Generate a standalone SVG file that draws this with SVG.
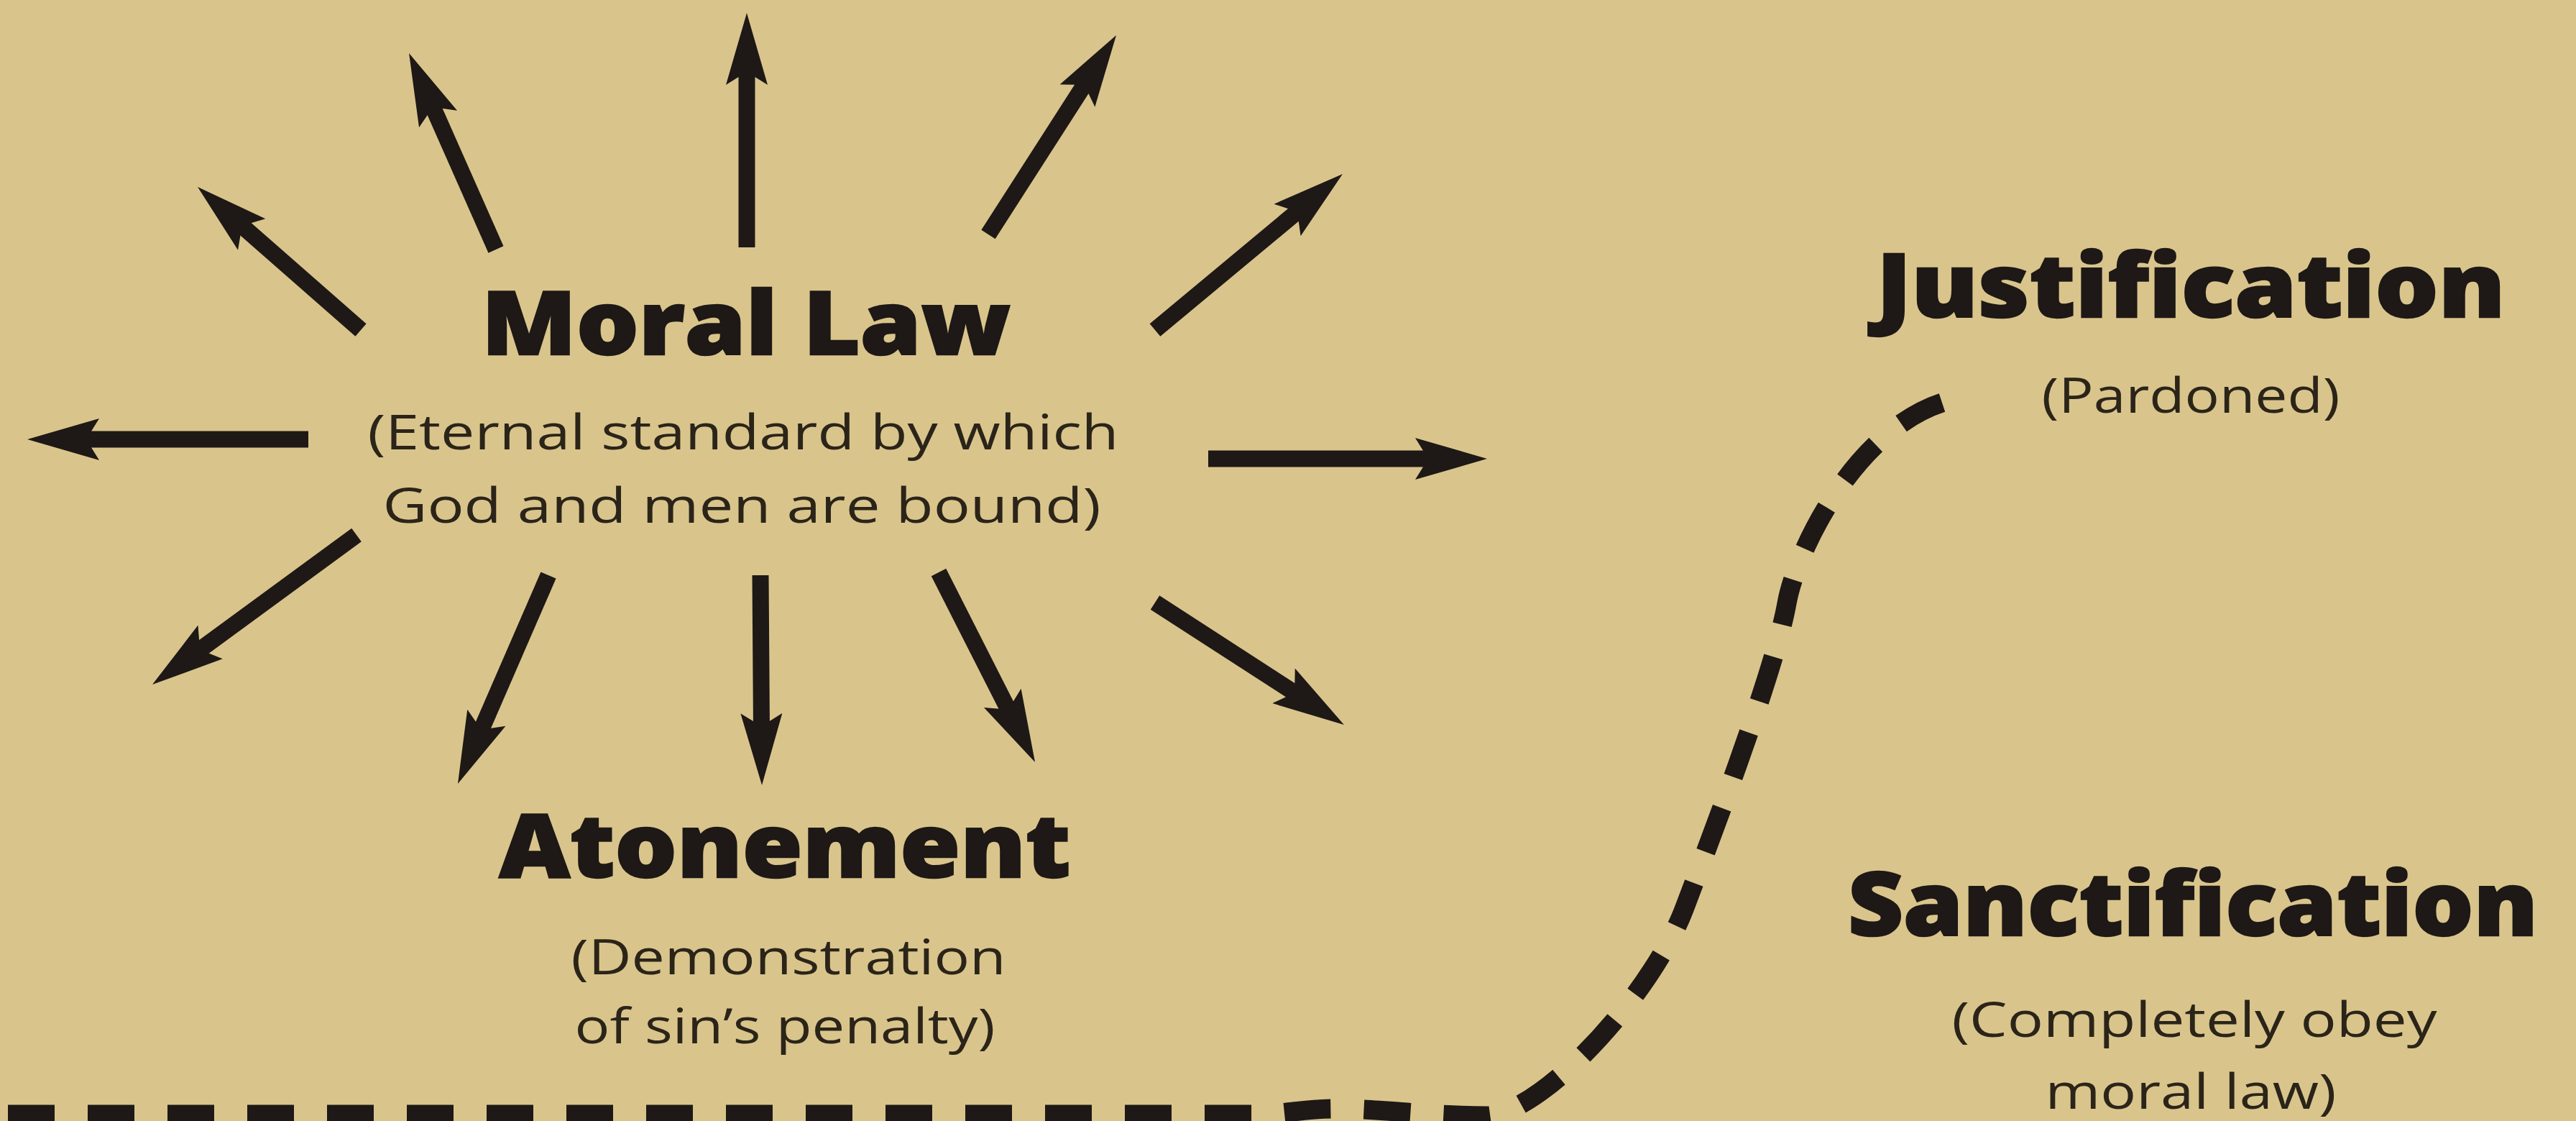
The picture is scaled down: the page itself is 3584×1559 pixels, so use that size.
<svg xmlns="http://www.w3.org/2000/svg" width="3584" height="1559" viewBox="0 0 3584 1559">
<style>
.bg{fill:#D9C58C}
.h{font-family:"Open Sans","Liberation Sans",sans-serif;font-weight:800;font-size:122px;fill:#1e1916;stroke:#1e1916;stroke-width:2.5;text-anchor:middle}
.b{font-family:"Open Sans","Liberation Sans",sans-serif;font-weight:500;font-size:68px;fill:#2b2419;text-anchor:middle}
.arr line{stroke:#1e1916;stroke-width:23;stroke-linecap:butt;marker-end:url(#head)}
.path{fill:none;stroke:#1e1916;stroke-width:27;stroke-dasharray:65 46;stroke-dashoffset:100}
</style>
<defs>
<marker id="head" viewBox="0 -32 100 64" markerWidth="100" markerHeight="64" markerUnits="userSpaceOnUse" refX="50" refY="0" orient="auto">
<path d="M100,0 L0,-29 L18,0 L0,29 Z" fill="#1e1916"/>
</marker>
</defs>
<rect class="bg" x="0" y="0" width="3584" height="1559"/>

<g id="connectors">
<g class="arr">
<line x1="429" y1="611" x2="88" y2="611"/>
<line x1="1681" y1="638" x2="2019" y2="638"/>
<line x1="1039" y1="344" x2="1039" y2="68"/>
<line x1="690" y1="347" x2="589.3" y2="119.7"/>
<line x1="502" y1="459" x2="312.6" y2="293"/>
<line x1="1375" y1="326" x2="1526" y2="91"/>
<line x1="1607" y1="459" x2="1829.5" y2="274"/>
<line x1="496" y1="744" x2="252.3" y2="922.5"/>
<line x1="763" y1="800" x2="656.9" y2="1044.1"/>
<line x1="1058" y1="800" x2="1059.7" y2="1042"/>
<line x1="1306" y1="796" x2="1417.4" y2="1015.4"/>
<line x1="1607" y1="838" x2="1828" y2="980.9"/>
</g>
<path class="path" d="M0,1550 L1740,1550 C1790,1550 1810,1542 1860,1542 C1920,1542 1990,1552 2070,1552 C2150,1545 2300,1380 2344,1262 C2384,1156 2470,930 2486,839 C2499,766 2580,600 2702,560"/>
</g>

<g id="moral-law">
<text class="h" x="1038" y="493" textLength="736" lengthAdjust="spacingAndGlyphs">Moral Law</text>
<text class="b" x="1034" y="625" textLength="1045" lengthAdjust="spacingAndGlyphs">(Eternal standard by which</text>
<text class="b" x="1032" y="727" textLength="999" lengthAdjust="spacingAndGlyphs">God and men are bound)</text>
</g>

<g id="atonement">
<text class="h" x="1092" y="1220" textLength="795" lengthAdjust="spacingAndGlyphs">Atonement</text>
<text class="b" x="1097" y="1355" textLength="605" lengthAdjust="spacingAndGlyphs">(Demonstration</text>
<text class="b" x="1092" y="1451" textLength="585" lengthAdjust="spacingAndGlyphs">of sin’s penalty)</text>
</g>

<g id="justification">
<text class="h" x="3048" y="441" textLength="875" lengthAdjust="spacingAndGlyphs">Justification</text>
<text class="b" x="3048" y="574" textLength="415" lengthAdjust="spacingAndGlyphs">(Pardoned)</text>
</g>

<g id="sanctification">
<text class="h" x="3051" y="1301" textLength="960" lengthAdjust="spacingAndGlyphs">Sanctification</text>
<text class="b" x="3053" y="1442" textLength="675" lengthAdjust="spacingAndGlyphs">(Completely obey</text>
<text class="b" x="3048" y="1542" textLength="405" lengthAdjust="spacingAndGlyphs">moral law)</text>
</g>
</svg>
